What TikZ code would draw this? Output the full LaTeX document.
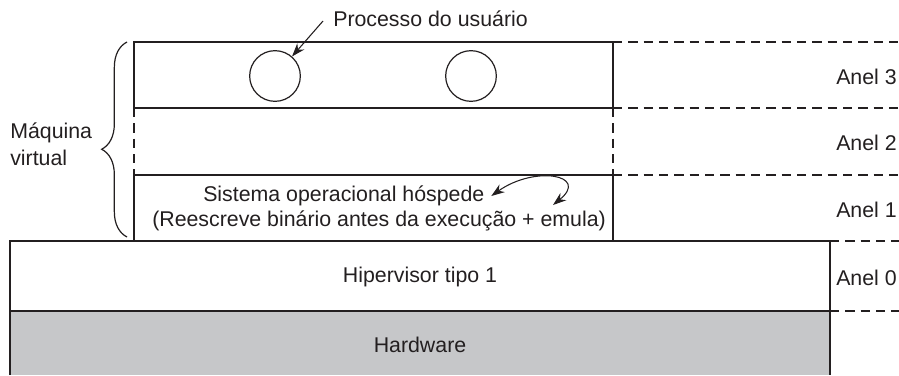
\documentclass[tikz,border=0pt]{standalone}
\usepackage{fontspec}
\setmainfont{Liberation Sans}
\usetikzlibrary{decorations.pathreplacing,arrows.meta}

\definecolor{hwgray}{HTML}{C6C7C9}
\definecolor{inkgray}{HTML}{231F20}

\tikzset{
  boxline/.style={line width=1pt, draw=inkgray},
  ringline/.style={line width=0.9pt, draw=inkgray, dash pattern=on 7pt off 4.5pt},
  lbl/.style={font=\fontsize{16}{20}\selectfont, text=inkgray, inner sep=0pt},
  proc/.style={circle, draw=inkgray, line width=0.9pt, minimum size=38pt, inner sep=0pt},
  ptr/.style={-{Stealth[length=10pt,width=7pt]}, line width=0.8pt, draw=inkgray},
}

\begin{document}
\begin{tikzpicture}[x=0.75pt,y=-0.75pt]
\useasboundingbox (0,0) rectangle (899,375);

% Hardware and hypervisor
\fill[hwgray] (10,311) rectangle (830,375);
\draw[boxline] (10,375) -- (10,241) -- (830,241) -- (830,375);
\draw[boxline, line width=1.5pt] (10,311) -- (830,311);

% Virtual machine (rings 3, 2, 1)
\draw[boxline] (134,108) -- (134,42) -- (613,42) -- (613,108) -- cycle;
\draw[boxline] (134,175) -- (134,241) -- (613,241) -- (613,175) -- cycle;
\draw[ringline] (134,108) -- (134,175);
\draw[ringline] (613,108) -- (613,175);

% Ring boundaries
\draw[ringline] (613,42) -- (899,42);
\draw[ringline] (613,108) -- (899,108);
\draw[ringline] (613,175) -- (899,175);
\draw[ringline] (830,241) -- (899,241);
\draw[ringline] (830,311) -- (899,311);

% Ring labels
\node[lbl, anchor=east] (anel3) at (897,77) {Anel 3};
\node[lbl, anchor=east] (anel2) at (897,143) {Anel 2};
\node[lbl, anchor=east] (anel1) at (897,210) {Anel 1};
\node[lbl, anchor=east] (anel0) at (897,278) {Anel 0};

% User processes
\node[proc] (proc1) at (275,76) {};
\node[proc] (proc2) at (471,76) {};
\node[lbl, anchor=west] (proclbl) at (333,19) {Processo do usuário};
\coordinate (procfrom) at (323,21);
\draw[ptr] (procfrom) -- (proc1);

% Guest OS
\node[lbl, anchor=west] (guest) at (203,196) {Sistema operacional hóspede};
\node[lbl, anchor=west] (rewrite) at (152,221) {(Reescreve binário antes da execução + emula)};
\coordinate (emulto) at (553,205);
\draw[ptr, {Stealth[length=10pt,width=7pt]}-{Stealth[length=10pt,width=7pt]}]
  ([xshift=5pt]guest.east) .. controls (535,165) and (590,175) .. (emulto);

% Hypervisor and hardware labels
\node[lbl] (hyper) at (420,277) {Hipervisor tipo 1};
\node[lbl] (hw) at (420,345) {Hardware};

% Virtual machine brace
\draw[line width=0.9pt, draw=inkgray, decorate,
  decoration={brace, amplitude=19pt, aspect=0.45}] (127,237) -- (127,42);
\node[lbl, anchor=west, align=left] (vmlbl) at (10,144) {Máquina\\virtual};
\end{tikzpicture}
\end{document}
